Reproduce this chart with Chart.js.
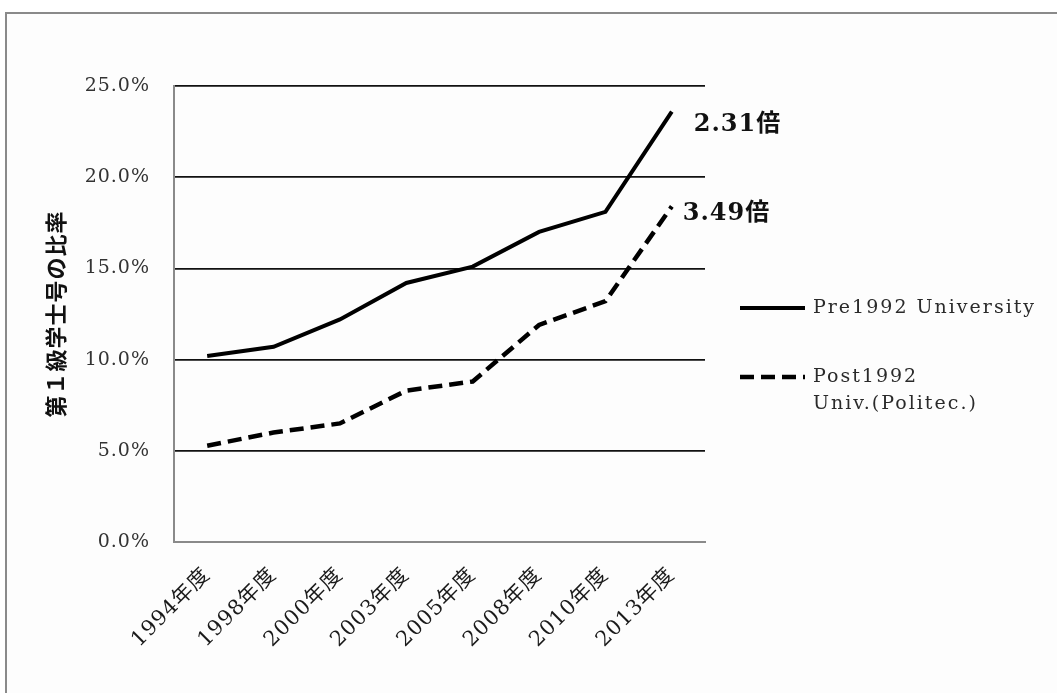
<!DOCTYPE html>
<html>
<head>
<meta charset="utf-8">
<script src="https://cdn.jsdelivr.net/npm/chart.js@4.4.1/dist/chart.umd.min.js"></script>
<style>
  html, body { margin: 0; padding: 0; background: #fff; }
  #wrap { position: relative; width: 1057px; height: 693px; overflow: hidden; }
  #frame { position: absolute; left: 5px; top: 12px; width: 1100px; height: 720px;
           border-left: 2px solid #8a8a8a; border-top: 2px solid #8a8a8a; background: #fdfdfd; }
  canvas { position: absolute; left: 0; top: 0; }
</style>
</head>
<body>
<div id="wrap">
  <div id="frame"></div>
  <canvas id="c" width="1057" height="693"></canvas>
</div>
<script>
// Survey years on the category axis
const categories = ['1994年度', '1998年度', '2000年度', '2003年度', '2005年度', '2008年度', '2010年度', '2013年度'];
// Share of first-class degrees (%)
const pre1992 = [10.2, 10.7, 12.2, 14.2, 15.1, 17.0, 18.1, 23.6];
const post1992 = [5.28, 6.0, 6.5, 8.3, 8.8, 11.9, 13.2, 18.4];
// Series names (legend, possibly multi-line) and growth-ratio annotations
const seriesNames = [['Pre1992 University'], ['Post1992', 'Univ.(Politec.)']];
const ratioLabels = ['2.31倍', '3.49倍'];
const yTitle = '第１級学士号の比率';

const SERIF = '"DejaVu Serif", "Liberation Serif", "Noto Sans CJK JP", serif';
const SPACING = '1px';

// Slightly spaced lettering for the axis text
const spacingPlugin = {
  id: 'spacing',
  beforeInit(chart) { chart.ctx.letterSpacing = SPACING; },
  beforeUpdate(chart) { chart.ctx.letterSpacing = SPACING; },
  beforeLayout(chart) { chart.ctx.letterSpacing = SPACING; },
  beforeDraw(chart) { chart.ctx.letterSpacing = SPACING; }
};

// Growth ratio printed next to the last point of each series
const ratioPlugin = {
  id: 'ratios',
  afterDatasetsDraw(chart, args, opts) {
    const ctx = chart.ctx;
    ctx.save();
    ctx.letterSpacing = '1px';
    ctx.font = 'bold 24px ' + SERIF;
    ctx.fillStyle = '#111';
    ctx.textAlign = 'left';
    ctx.textBaseline = 'middle';
    chart.data.datasets.forEach((ds, i) => {
      const meta = chart.getDatasetMeta(i);
      const pt = meta.data[meta.data.length - 1];
      const off = opts.offsets[i];
      ctx.fillText(ratioLabels[i], pt.x + off[0], pt.y + off[1]);
    });
    ctx.restore();
  }
};

// Legend drawn at the right of the plot, supporting wrapped names
const sideLegend = {
  id: 'sideLegend',
  afterDraw(chart, args, opts) {
    const ctx = chart.ctx;
    ctx.save();
    ctx.letterSpacing = '2px';
    ctx.font = '19px ' + SERIF;
    ctx.fillStyle = '#2a2a2a';
    ctx.textAlign = 'left';
    ctx.textBaseline = 'middle';
    chart.data.datasets.forEach((ds, i) => {
      const y = opts.top + i * opts.gap;
      ctx.save();
      ctx.strokeStyle = ds.borderColor;
      ctx.lineWidth = ds.borderWidth;
      ctx.setLineDash(ds.borderDash || []);
      ctx.beginPath();
      ctx.moveTo(opts.left, y);
      ctx.lineTo(opts.left + opts.lineLen, y);
      ctx.stroke();
      ctx.restore();
      seriesNames[i].forEach((line, j) => {
        ctx.fillText(line, opts.left + opts.lineLen + 8, y + j * opts.lineHeight);
      });
    });
    ctx.restore();
  }
};

new Chart(document.getElementById('c'), {
  type: 'line',
  data: {
    labels: categories,
    datasets: [
      { label: seriesNames[0].join(' '), data: pre1992, borderColor: '#000', borderWidth: 4,
        pointRadius: 0, tension: 0, fill: false },
      { label: seriesNames[1].join(' '), data: post1992, borderColor: '#000', borderWidth: 4.5,
        borderDash: [14, 7], pointRadius: 0, tension: 0, fill: false }
    ]
  },
  plugins: [spacingPlugin, ratioPlugin, sideLegend],
  options: {
    responsive: false,
    animation: false,
    events: [],
    layout: { padding: { left: 0, top: 86, right: 352, bottom: 0 } },
    plugins: {
      legend: { display: false },
      tooltip: { enabled: false },
      ratios: { offsets: [[22, 13], [11, 7]] },
      sideLegend: { left: 740, top: 308, gap: 69, lineLen: 65, lineHeight: 27 }
    },
    scales: {
      x: {
        offset: true,
        grid: { display: false, drawTicks: false },
        border: { display: true, color: '#8a8a8a', width: 2 },
        ticks: {
          autoSkip: false, maxRotation: 45, minRotation: 45, padding: 21,
          color: '#1a1a1a', font: { family: SERIF, size: 21 }
        },
        afterFit(s) { s.height = 693 - 542; }
      },
      y: {
        min: 0, max: 25,
        ticks: {
          stepSize: 5, padding: 24, color: '#333',
          font: { family: SERIF, size: 19 },
          callback: v => v.toFixed(1) + '%'
        },
        grid: {
          drawTicks: false, lineWidth: 1.8,
          color: c => (c.tick && c.tick.value === 0) ? 'rgba(0,0,0,0)' : '#111'
        },
        border: { display: true, color: '#8a8a8a', width: 2 },
        title: {
          display: true, text: yTitle, color: '#111',
          font: { family: '"Noto Sans CJK JP", sans-serif', size: 22, weight: 'bold' },
          padding: { top: 42, bottom: 0 }
        },
        afterFit(s) { s.width = 174; }
      }
    }
  }
});
</script>
</body>
</html>
